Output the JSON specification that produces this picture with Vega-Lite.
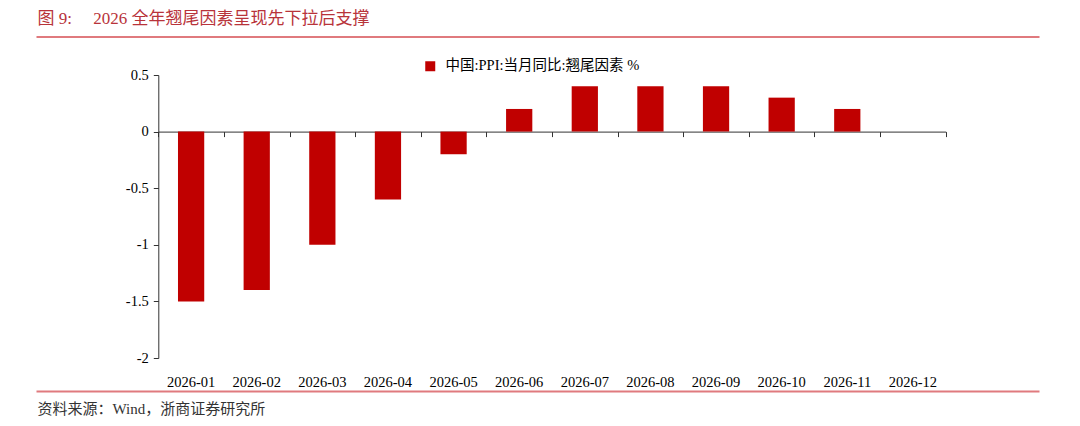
{
  "$schema": "https://vega.github.io/schema/vega-lite/v6.json",
  "autosize": "none",
  "padding": 0,
  "width": 1080,
  "height": 426,
  "background": "white",
  "view": {"stroke": null},
  "config": {"font": "Liberation Serif, Noto Sans CJK SC"},
  "datasets": {
    "ppi": [
      {"month": "2026-01", "value": -1.5},
      {"month": "2026-02", "value": -1.4},
      {"month": "2026-03", "value": -1.0},
      {"month": "2026-04", "value": -0.6},
      {"month": "2026-05", "value": -0.2},
      {"month": "2026-06", "value": 0.2},
      {"month": "2026-07", "value": 0.4},
      {"month": "2026-08", "value": 0.4},
      {"month": "2026-09", "value": 0.4},
      {"month": "2026-10", "value": 0.3},
      {"month": "2026-11", "value": 0.2},
      {"month": "2026-12", "value": null}
    ]
  },
  "resolve": {"scale": {"x": "independent"}, "axis": {"x": "independent"}},
  "layer": [
    {
      "data": {"name": "ppi"},
      "mark": {"type": "bar", "color": "#C00000"},
      "encoding": {
        "x": {
          "field": "month", "type": "nominal", "sort": null,
          "scale": {"type": "band", "domain": ["2026-01","2026-02","2026-03","2026-04","2026-05","2026-06","2026-07","2026-08","2026-09","2026-10","2026-11","2026-12"], "range": [158.3, 945.7], "paddingInner": 0.6, "paddingOuter": 0.3},
          "axis": {"orient": "bottom", "offset": -68, "domain": false, "ticks": false, "labelPadding": 17, "labelAngle": 0, "labelFont": "Liberation Serif", "labelFontSize": 14.5, "labelColor": "#000000", "title": null, "grid": false}
        },
        "y": {
          "field": "value", "type": "quantitative",
          "scale": {"domain": [-2, 0.5], "range": [358, 75], "nice": false, "zero": false},
          "axis": {"orient": "left", "offset": -158.3, "values": [-2, -1.5, -1, -0.5, 0, 0.5], "labelExpr": "'' + datum.value", "tickSize": 5, "labelPadding": 5, "domainColor": "#333333", "tickColor": "#333333", "labelFont": "Liberation Serif", "labelFontSize": 14.5, "labelColor": "#000000", "title": null, "grid": false}
        },
        "color": {
          "datum": "中国:PPI:当月同比:翘尾因素 %",
          "type": "nominal",
          "scale": {"range": ["#C00000"]},
          "legend": {"orient": "none", "legendX": 423, "legendY": 59, "title": null, "symbolType": "square", "symbolSize": 100, "symbolStrokeWidth": 0, "labelFontSize": 14.5, "labelColor": "#000000", "labelFont": "Liberation Serif, Noto Sans CJK SC", "labelOffset": 8, "labelLimit": 400}
        }
      }
    },
    {
      "data": {"name": "ppi"},
      "mark": {"type": "bar", "opacity": 0},
      "encoding": {
        "x": {
          "field": "month", "type": "nominal", "sort": null,
          "scale": {"type": "band", "domain": ["2026-01","2026-02","2026-03","2026-04","2026-05","2026-06","2026-07","2026-08","2026-09","2026-10","2026-11","2026-12"], "range": [158.3, 945.7], "paddingInner": 0, "paddingOuter": 0},
          "axis": {"orient": "bottom", "offset": -294.4, "labels": false, "tickBand": "extent", "tickSize": 5, "domainColor": "#333333", "tickColor": "#333333", "title": null, "grid": false}
        }
      }
    },
    {
      "data": {"values": [{}]},
      "mark": {"type": "rule", "opacity": 0},
      "encoding": {
        "x": {
          "datum": 0, "type": "quantitative",
          "scale": {"domain": [0, 1], "range": [36, 1039], "nice": false},
          "axis": {"orient": "top", "offset": -36.5, "labels": false, "ticks": false, "grid": false, "domainColor": "#E07A7E", "domainWidth": 2, "title": "图 9:\u00a0\u00a0\u00a0\u00a0 2026 全年翘尾因素呈现先下拉后支撑", "titleX": 37, "titleY": -18, "titleAlign": "left", "titleBaseline": "middle", "titleAngle": 0, "titleFont": "Liberation Serif, Noto Sans CJK SC", "titleFontSize": 17, "titleFontWeight": "normal", "titleColor": "#B8333A"}
        }
      }
    },
    {
      "data": {"values": [{}]},
      "mark": {"type": "rule", "opacity": 0},
      "encoding": {
        "x": {
          "datum": 0, "type": "quantitative",
          "scale": {"domain": [0, 1], "range": [36, 1039], "nice": false},
          "axis": {"orient": "bottom", "offset": -35, "labels": false, "ticks": false, "grid": false, "domainColor": "#E07A7E", "domainWidth": 2, "title": "资料来源：Wind，浙商证券研究所", "titleX": 37, "titleY": 17, "titleAlign": "left", "titleBaseline": "middle", "titleAngle": 0, "titleFont": "Liberation Serif, Noto Sans CJK SC", "titleFontSize": 15, "titleFontWeight": "normal", "titleColor": "#333333"}
        }
      }
    }
  ]
}
